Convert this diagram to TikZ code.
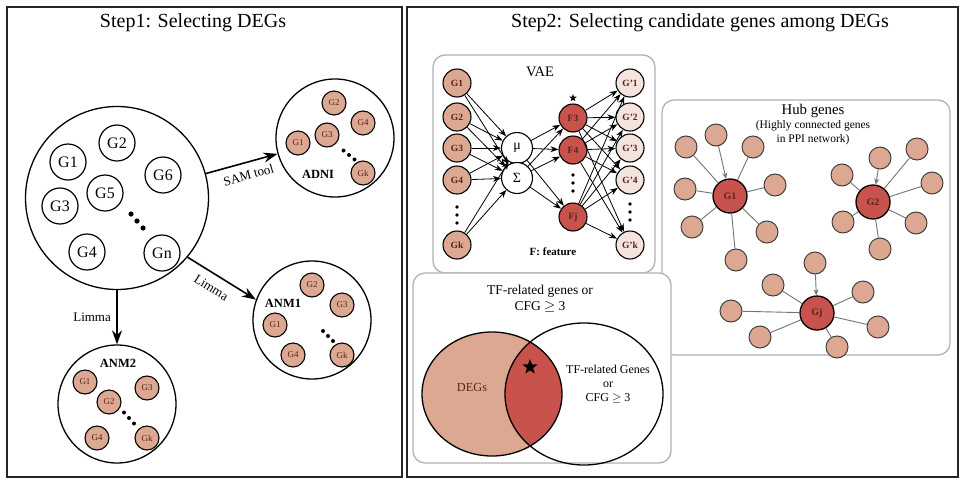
\documentclass[tikz,border=0pt]{standalone}
\usepackage{fontspec}
\setmainfont{Liberation Serif}
\usetikzlibrary{arrows.meta,shapes.geometric}

\definecolor{peach}{RGB}{220,168,145}
\definecolor{brick}{RGB}{200,82,76}
\definecolor{blush}{RGB}{244,228,221}
\definecolor{boxgray}{RGB}{178,178,178}
\definecolor{genetxt}{RGB}{90,35,25}

\newcommand{\fs}[1]{\fontsize{#1}{#1}\selectfont}
% three dots: x, y, step x, step y, radius
\newcommand{\threedots}[5]{%
  \foreach \k in {-1,0,1} \fill ({#1+\k*(#3)},{#2+\k*(#4)}) circle (#5);}

\tikzset{
  frame/.style={draw=black!85, line width=1.8pt},
  panel/.style={draw=boxgray, line width=1.3pt, rounded corners=12pt, fill=white},
  pool/.style={circle, draw, line width=1.3pt, minimum size=183pt, inner sep=0pt},
  clus/.style={circle, draw, line width=1.3pt, minimum size=118pt, inner sep=0pt},
  gene/.style={circle, draw, line width=1.2pt, minimum size=36pt, inner sep=0pt, font=\fs{16}},
  deg/.style={circle, draw, line width=1.1pt, fill=peach, minimum size=24pt, inner sep=0pt,
    font=\fs{9}, text=genetxt},
  clab/.style={font=\bfseries\fs{12.5}},
  flow/.style={-{Stealth[length=14pt,width=10pt]}, line width=1.6pt},
  vin/.style={circle, draw, line width=1.1pt, fill=peach, minimum size=28pt, inner sep=0pt,
    font=\bfseries\fs{9.5}, text=genetxt},
  lat/.style={circle, draw, line width=1.1pt, fill=white, minimum size=31pt, inner sep=0pt,
    font=\fs{14}},
  feat/.style={vin, fill=brick},
  vout/.style={vin, fill=blush},
  link/.style={-{Stealth[length=8pt,width=6pt]}, line width=0.8pt},
  hub/.style={circle, draw, line width=1.3pt, fill=brick, minimum size=34pt, inner sep=0pt,
    font=\bfseries\fs{10}, text=genetxt},
  nbr/.style={circle, draw=black!75, line width=1pt, fill=peach, minimum size=22pt, inner sep=0pt},
  edge/.style={draw=black!55, line width=0.9pt},
  bigstar/.style={star, star points=5, star point ratio=2.4, fill=black, inner sep=0pt},
}

\begin{document}
\begin{tikzpicture}[x=1pt,y=-1pt]
  \useasboundingbox (0,0) rectangle (965,485);

  % frames
  \draw[frame] (7,7) rectangle (402,477);
  \draw[frame] (407,7) rectangle (958,477);
  \node[font=\fs{20}] (title1) at (193,23) {Step1: Selecting DEGs};
  \node[font=\fs{20}] (title2) at (700,23) {Step2: Selecting candidate genes among DEGs};

  % step 1: all genes
  \node[pool] (pool) at (117,198) {};
  \node[gene] (p1) at (68,162) {G1};
  \node[gene] (p2) at (117,143) {G2};
  \node[gene] (p6) at (163,175) {G6};
  \node[gene] (p5) at (105,193) {G5};
  \node[gene] (p3) at (60,206) {G3};
  \node[gene] (p4) at (87,252) {G4};
  \node[gene] (pn) at (162,253) {Gn};
  \threedots{137}{221}{6}{7}{2.6pt}

  % ADNI
  \node[clus] (adni) at (335,138) {};
  \node[deg] (ad2) at (334,103) {G2};
  \node[deg] (ad4) at (363,123) {G4};
  \node[deg] (ad3) at (327,135) {G3};
  \node[deg] (ad1) at (298,143) {G1};
  \node[deg] (adk) at (363,173) {Gk};
  \node[clab] (adnilab) at (318,174) {ADNI};
  \threedots{349}{155}{5.5}{4.5}{2pt}

  % ANM1
  \node[clus] (anm1) at (312,320) {};
  \node[clab] (anm1lab) at (283,303) {ANM1};
  \node[deg] (ma2) at (312,285) {G2};
  \node[deg] (ma3) at (342,305) {G3};
  \node[deg] (ma1) at (275,325) {G1};
  \node[deg] (ma4) at (293,355) {G4};
  \node[deg] (mak) at (342,355) {Gk};
  \threedots{328}{336}{5}{5}{2pt}

  % ANM2
  \node[clus] (anm2) at (117,404) {};
  \node[clab] (anm2lab) at (118,363) {ANM2};
  \node[deg] (mb1) at (85,382) {G1};
  \node[deg] (mb2) at (109,402) {G2};
  \node[deg] (mb3) at (147,388) {G3};
  \node[deg] (mb4) at (97,438) {G4};
  \node[deg] (mbk) at (147,438) {Gk};
  \threedots{129}{418}{5}{5.5}{2pt}

  \draw[flow] (pool) -- (adni) node[pos=0.55, below=4pt, sloped, font=\fs{13}] {SAM tool};
  \draw[flow] (pool.-40) -- (anm1.160) node[pos=0.45, below=5pt, sloped, font=\fs{13}] {Limma};
  \draw[flow] (pool) -- (anm2) node[midway, left=2pt, font=\fs{13}] {Limma};

  % step 2: VAE
  \draw[panel] (433,55) rectangle (655,273);
  \node[font=\fs{14.5}] (vaelab) at (540,72) {VAE};
  \foreach \n/\y in {1/83,2/117,3/148,4/180,k/245}
    \node[vin] (in\n) at (457,\y) {G\n};
  \threedots{457}{215}{0}{8}{1.8pt}
  \node[lat] (mu) at (517,148) {μ};
  \node[lat] (sig) at (517,178) {Σ};
  \foreach \n/\y in {3/118,4/150,j/217}
    \node[feat] (f\n) at (573,\y) {F\n};
  \threedots{573}{183}{0}{8}{1.8pt}
  \node[bigstar, minimum size=8pt] (fstar) at (573,98) {};
  \foreach \n/\y in {1/83,2/117,3/148,4/180,k/245}
    \node[vout] (out\n) at (630,\y) {G’\n};
  \threedots{630}{212}{0}{8}{1.8pt}
  \node[font=\bfseries\fs{11}] (featlab) at (553,252) {F: feature};

  \foreach \n in {1,2,3,4,k}
    \foreach \z in {mu,sig}
      \draw[link] (in\n) -- (\z);
  \foreach \f in {3,4,j} {
    \draw[link] (mu) -- (f\f);
    \draw[link] (sig) -- (f\f);
  }
  \foreach \f in {3,4,j}
    \foreach \n in {1,2,3,4,k}
      \draw[link] (f\f) -- (out\n);

  % hub genes
  \draw[panel] (662,100) rectangle (950,355);
  \node[font=\fs{14.8}] (hublab) at (813,111) {Hub genes};
  \node[align=center, font=\fontsize{11.5}{14}\selectfont] (hubsub) at (813,133)
    {(Highly connected genes\\in PPI network)};

  \node[hub] (hubA) at (730,196) {G1};
  \node[nbr] (na0) at (716,135) {};
  \draw[edge, -{Stealth[length=6pt,width=5pt]}] (na0) -- (hubA);
  \foreach \x/\y [count=\i] in {686/147,753/147,685/189,775/185,692/227,767/232,736/260} {
    \node[nbr] (na\i) at (\x,\y) {};
    \draw[edge] (na\i) -- (hubA);
  }

  \node[hub] (hubB) at (873,202) {G2};
  \node[nbr] (nb0) at (880,158) {};
  \draw[edge, -{Stealth[length=6pt,width=5pt]}] (nb0) -- (hubB);
  \foreach \x/\y [count=\i] in {842/175,917/149,932/183,843/222,916/223,880/249} {
    \node[nbr] (nb\i) at (\x,\y) {};
    \draw[edge] (nb\i) -- (hubB);
  }

  \node[hub] (hubC) at (817,313) {Gj};
  \node[nbr] (nc0) at (815,263) {};
  \draw[edge, -{Stealth[length=6pt,width=5pt]}] (nc0) -- (hubC);
  \foreach \x/\y [count=\i] in {773/285,863/292,731/311,878/327,760/337,837/347} {
    \node[nbr] (nc\i) at (\x,\y) {};
    \draw[edge] (nc\i) -- (hubC);
  }

  % TF-related / CFG
  \draw[panel] (413,273) rectangle (671,463);
  \node[align=center, font=\fontsize{13.5}{15.5}\selectfont] (tflab) at (540,299)
    {TF-related genes or\\CFG $\geq$ 3};
  \fill[peach] (492,394) ellipse [x radius=70, y radius=62];
  \begin{scope}
    \clip (492,394) ellipse [x radius=70, y radius=62];
    \fill[brick] (584,394) ellipse [x radius=79, y radius=71];
  \end{scope}
  \draw[line width=1.3pt] (492,394) ellipse [x radius=70, y radius=62];
  \draw[line width=1.3pt] (584,394) ellipse [x radius=79, y radius=71];
  \node[font=\fs{12.3}, text=genetxt] (deglab) at (472,387) {DEGs};
  \node[bigstar, minimum size=16pt] (vstar) at (530,367) {};
  \node[align=center, font=\fontsize{12}{14}\selectfont] (tfset) at (608,384)
    {TF-related Genes\\or\\CFG $\geq$ 3};
\end{tikzpicture}
\end{document}
